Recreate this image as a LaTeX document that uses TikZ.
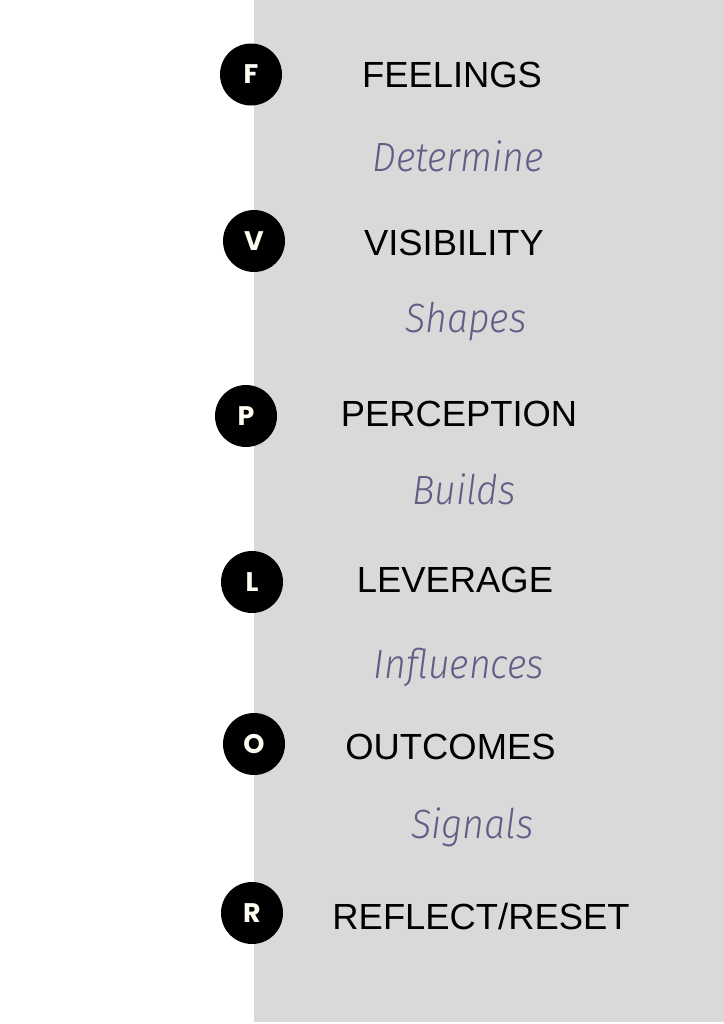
\documentclass[tikz,border=0pt]{standalone}
\usepackage{fontspec}
\setmainfont{Liberation Sans}
\newfontfamily\handfont{Fira Sans Light Italic}[FakeStretch=0.92]
\newfontfamily\badgefont{Poppins Bold}
\definecolor{panel}{HTML}{D9D9D9}
\definecolor{verbc}{HTML}{615E86}
\definecolor{lettc}{HTML}{FFFDF2}
\tikzset{
  badge/.style={circle, fill=black, minimum size=62bp, inner sep=0pt,
    text=lettc, font=\badgefont\fontsize{27}{29}\selectfont},
  head/.style={anchor=base, inner sep=0pt, text=black,
    font=\fontsize{36.5}{40}\selectfont},
  verb/.style={anchor=base, inner sep=0pt, text=verbc,
    font=\handfont\fontsize{41}{44}\selectfont},
}
\begin{document}
\begin{tikzpicture}[x=1bp,y=-1bp]
\useasboundingbox (0,0) rectangle (724,1024);
\fill[panel] (254,0) rectangle (724,1022);
% badges
\node[badge] (bF) at (251,74.5) {F};
\node[badge] (bV) at (254,241) {V};
\node[badge] (bP) at (246,416) {P};
\node[badge] (bL) at (252,582) {L};
\node[badge] (bO) at (254,744) {O};
\node[badge] (bR) at (252,913) {R};
% headings
\node[head] (hF) at (452,87) {FEELINGS};
\node[head] (hV) at (454,255) {VISIBILITY};
\node[head] (hP) at (459,426) {PERCEPTION};
\node[head] (hL) at (455,592) {LEVERAGE};
\node[head] (hO) at (450.5,759) {OUTCOMES};
\node[head] (hR) at (481,929) {REFLECT/RESET};
% verbs
\node[verb] (vF) at (458,171) {Determine};
\node[verb] (vV) at (466,332) {Shapes};
\node[verb] (vP) at (464,504) {Builds};
\node[verb] (vL) at (459,678) {Influences};
\node[verb] (vO) at (472.5,838) {Signals};
\end{tikzpicture}
\end{document}
